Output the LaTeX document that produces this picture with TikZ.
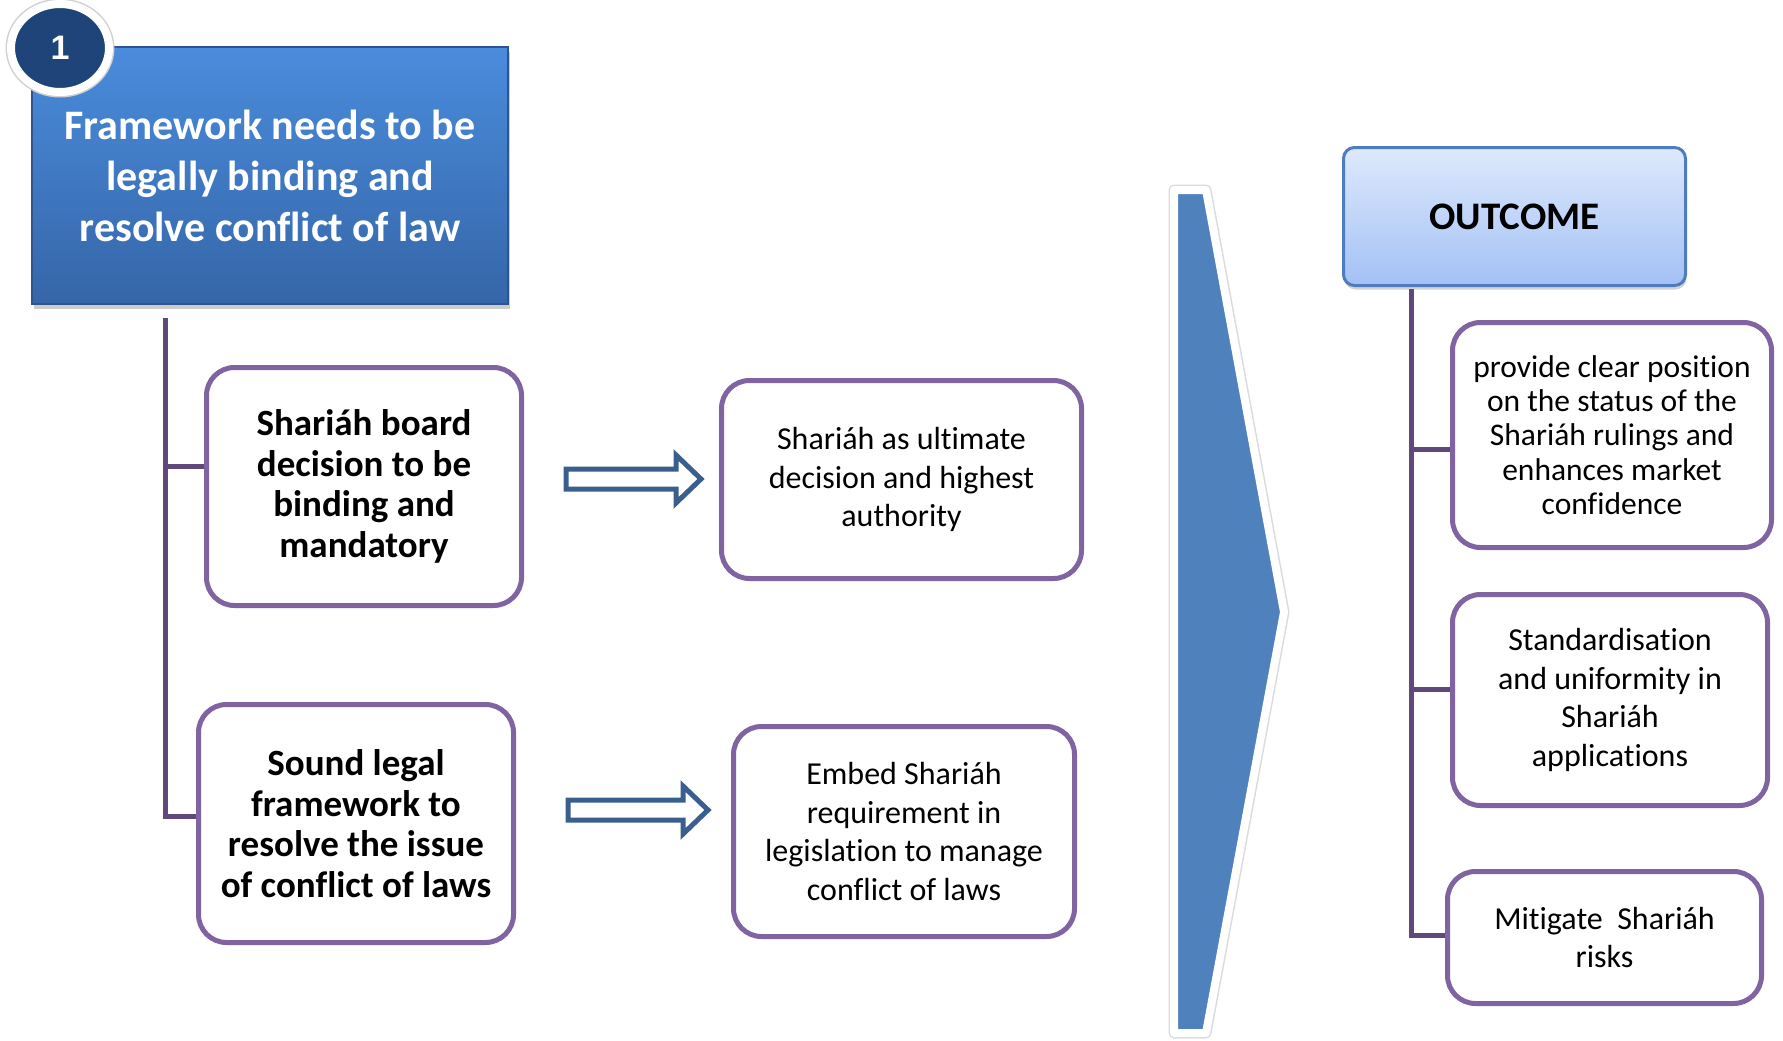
\documentclass[tikz,border=0pt]{standalone}
\usepackage{fontspec}
\setmainfont[Ligatures=NoCommon]{Carlito}
\newfontfamily\numfont{Liberation Sans}
\usetikzlibrary{shapes.geometric,shadows}
\definecolor{boxpurple}{HTML}{8064A2}
\definecolor{linepurple}{HTML}{5F497A}
\definecolor{navy}{HTML}{1F4479}
\definecolor{chev}{HTML}{4F81BD}
\definecolor{arrowblue}{HTML}{3A5F8F}
\definecolor{titletop}{HTML}{4A8CDC}
\definecolor{titlebot}{HTML}{3566A8}
\definecolor{titleedge}{HTML}{2E5590}
\definecolor{outtop}{HTML}{DEE9FC}
\definecolor{outbot}{HTML}{A3C1F5}
\definecolor{outedge}{HTML}{4F7CC0}
\begin{document}
\begin{tikzpicture}[x=1pt,y=-1pt,
 pbox/.style={draw=boxpurple, line width=5pt, rounded corners=28pt, fill=white, align=center, inner sep=0pt},
 boldtxt/.style={font=\fontsize{37}{40.6}\selectfont\bfseries},
 regtxt/.style={font=\fontsize{32}{38.7}\selectfont},
 conn/.style={draw=linepurple, line width=5pt},
 barrow/.style={draw=arrowblue, fill=white, line width=5pt, line join=miter},
]
\useasboundingbox (0,0) rectangle (1783,1041);

% title box
\node (title) [minimum width=476pt, minimum height=257pt, inner sep=0pt, align=center,
  top color=titletop, bottom color=titlebot, draw=titleedge, line width=1.5pt,
  drop shadow={shadow xshift=2pt, shadow yshift=-5pt, opacity=0.4},
  text=white, font=\fontsize{42}{51}\selectfont\bfseries]
  at (270,175.5) {Framework needs to be\\legally binding and\\resolve conflict of law};

% number badge
\node (num) [ellipse, minimum width=98pt, minimum height=88pt, inner sep=0pt,
  fill=navy, draw=white, line width=8pt,
  preaction={draw=black!18, line width=11pt},
  text=white, font=\numfont\fontsize{34}{34}\selectfont\bfseries]
  at (60,48) {1};

% left boxes
\node (b1) [pbox, boldtxt, minimum width=315pt, minimum height=238pt] at (364,486.5)
  {Shariáh board\\decision to be\\binding and\\mandatory};
\node (b2) [pbox, boldtxt, minimum width=315pt, minimum height=238pt] at (356,823.5)
  {Sound legal\\framework to\\resolve the issue\\of conflict of laws};
\node (b3) [pbox, regtxt, minimum width=360pt, minimum height=198pt] at (901.5,479.5)
  {Shariáh as ultimate\\decision and highest\\authority};
\node (b4) [pbox, regtxt, minimum width=341pt, minimum height=210pt] at (904,831.5)
  {Embed Shariáh\\requirement in\\legislation to manage\\conflict of laws};

% left connectors
\coordinate (ltop) at (165,318);
\coordinate (l1) at (165,466);
\coordinate (l2) at (165,816);
\draw[conn] (ltop) -- (l2) -- (l2 -| b2.west);
\draw[conn] (l1) -- (l1 -| b1.west);

% block arrows
\draw[barrow] (566,469) -- (676,469) -- (676,455) -- (701,479) -- (676,503) -- (676,489) -- (566,489) -- cycle;
\draw[barrow] (568,800) -- (683,800) -- (683,786) -- (708,810) -- (683,834) -- (683,820) -- (568,820) -- cycle;

% chevron
\path[fill=chev, draw=white, line width=8pt, line join=round,
  preaction={draw=black!14, line width=11pt, line join=round}]
  (1174,190) -- (1206,190) -- (1284,612) -- (1206,1033) -- (1174,1033) -- cycle;

% outcome
\node (out) [minimum width=342pt, minimum height=138pt, inner sep=0pt, rounded corners=11pt,
  top color=outtop, bottom color=outbot, draw=outedge, line width=3pt,
  drop shadow={shadow xshift=1pt, shadow yshift=-4pt, opacity=0.35},
  font=\fontsize{39}{39}\selectfont\bfseries]
  at (1514.5,216.5) {OUTCOME};

\node (b5) [pbox, font=\fontsize{31.5}{34.4}\selectfont, minimum width=319pt, minimum height=225pt] at (1612,435)
  {provide clear position\\on the status of the\\Shariáh rulings and\\enhances market\\confidence};
\node (b6) [pbox, regtxt, minimum width=315pt, minimum height=211pt] at (1610,700)
  {Standardisation\\and uniformity in\\Shariáh\\applications};
\node (b7) [pbox, regtxt, minimum width=314pt, minimum height=132pt] at (1604.5,937.5)
  {Mitigate\ \ Shariáh\\risks};

% right connectors
\coordinate (rtop) at (1411,289);
\coordinate (r5) at (1411,449);
\coordinate (r6) at (1411,689);
\coordinate (r7) at (1411,935);
\draw[conn] (rtop) -- (r7) -- (r7 -| b7.west);
\draw[conn] (r5) -- (r5 -| b5.west);
\draw[conn] (r6) -- (r6 -| b6.west);
\end{tikzpicture}
\end{document}
